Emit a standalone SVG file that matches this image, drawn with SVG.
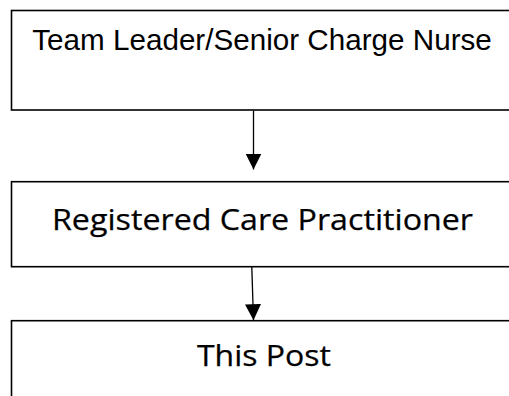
<svg xmlns="http://www.w3.org/2000/svg" width="509" height="396" viewBox="0 0 509 396">
  <style>
    .box { fill: #ffffff; stroke: #000000; stroke-width: 1.6; }
    .link { fill: none; stroke: #000000; stroke-width: 1.3; }
    .arial { font-family: "Liberation Sans", Arial, sans-serif; fill: #000000; }
    .humanist { font-family: "Open Sans", "Noto Sans", sans-serif; fill: #000000; stroke: #000000; stroke-width: 0.25; }
  </style>
  <defs>
    <marker id="arrow" viewBox="0 0 16 16" refX="16" refY="8" markerWidth="16" markerHeight="16" markerUnits="userSpaceOnUse" orient="auto">
      <path d="M0,0 L16,8 L0,16 Z" fill="#000000"/>
    </marker>
  </defs>
  <rect width="509" height="396" fill="#ffffff"/>

  <g id="team-leader">
    <rect class="box" x="11.5" y="10.5" width="504" height="99.5"/>
    <text class="arial" x="32.3" y="50" font-size="29.5" textLength="459.5" lengthAdjust="spacingAndGlyphs">Team Leader/Senior Charge Nurse</text>
  </g>

  <g id="registered-care-practitioner">
    <rect class="box" x="11.5" y="181.7" width="504" height="85"/>
    <text class="humanist" x="52" y="230" font-size="30" textLength="421" lengthAdjust="spacingAndGlyphs">Registered Care Practitioner</text>
  </g>

  <g id="this-post">
    <rect class="box" x="11.5" y="320.7" width="504" height="90"/>
    <text class="humanist" x="197" y="366" font-size="30" textLength="134" lengthAdjust="spacingAndGlyphs">This Post</text>
  </g>

  <g id="connectors">
    <line class="link" x1="253.5" y1="110.5" x2="253.5" y2="169.5" marker-end="url(#arrow)"/>
    <line class="link" x1="251.8" y1="267" x2="253.5" y2="320.2" marker-end="url(#arrow)"/>
  </g>
</svg>
